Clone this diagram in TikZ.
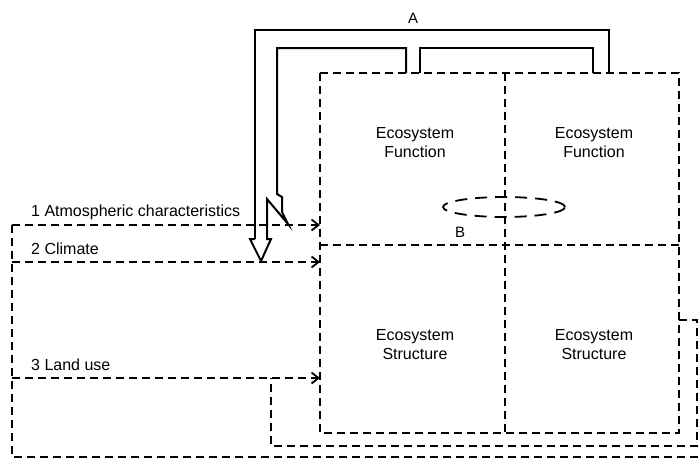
\documentclass[tikz,border=0pt]{standalone}
\usepackage{fontspec}
\setmainfont{Liberation Sans}
\usetikzlibrary{arrows.meta}
\begin{document}
\begin{tikzpicture}[x=1pt,y=-1pt,
  dl/.style={line width=2.2pt, dash pattern=on 8pt off 5pt},
  sl/.style={line width=2pt, line join=miter},
  lbl/.style={font=\fontsize{16}{18}\selectfont, inner sep=0pt, anchor=base west},
  cell/.style={font=\fontsize{16}{19}\selectfont, align=center, inner sep=0pt},
  tag/.style={font=\fontsize{15}{17}\selectfont, inner sep=0pt},
  tip/.style={-{Straight Barb[length=7pt,width=11pt,line width=1.8pt]}}
]
\useasboundingbox (0,0) rectangle (698,459);
% main grid
\coordinate (tl) at (320,73);
\coordinate (br) at (679,433);
\draw[dl] (tl) rectangle (br);
\coordinate (vt) at (505,73);
\coordinate (vb) at (505,433);
\coordinate (hl) at (320,245);
\coordinate (hr) at (679,245);
\draw[dl] (vt) -- (vb);
\draw[dl] (hl) -- (hr);
\node[cell] (fl) at (415,143) {Ecosystem\\Function};
\node[cell] (fr) at (594,143) {Ecosystem\\Function};
\node[cell] (sl) at (415,345) {Ecosystem\\Structure};
\node[cell] (sr) at (594,345) {Ecosystem\\Structure};
% interaction B
\draw[line width=1.8pt, dash pattern=on 12pt off 8pt] (504,207) ellipse [x radius=61pt, y radius=10pt];
\node[tag] (B) at (460,232) {B};
% drivers
\node[lbl] (d1) at (31,216) {1 Atmospheric characteristics};
\node[lbl] (d2) at (31,254) {2 Climate};
\node[lbl] (d3) at (31,370) {3 Land use};
\coordinate (s1) at (12,225);
\coordinate (e1) at (320,225);
\coordinate (s2) at (12,262);
\coordinate (e2) at (320,262);
\coordinate (s3) at (12,378);
\coordinate (e3) at (320,378);
\coordinate (sb) at (12,457);
\coordinate (eb) at (698,457);
\draw[dl] (s1) -- (sb) -- (eb);
\draw[dl,tip] (s1) -- (e1);
\draw[dl,tip] (s2) -- (e2);
\draw[dl,tip] (s3) -- (e3);
% land use feedback loop
\coordinate (lo) at (679,320);
\coordinate (lj) at (271,378);
\draw[dl] (lo) -- (697,320) -- (697,446) -- (271,446) -- (lj);
% feedback A (hollow arrow)
\node[tag] (A) at (413,18) {A};
\draw[sl] (255,239) -- (255,30) -- (609,30) -- (609,73);
\draw[sl] (406,73) -- (406,48) -- (277,48) -- (277,194) -- (282,197) -- (282,212)
  -- (288,224) -- (267,199) -- (267,239) -- (271,239) -- (261,261) -- (250,239) -- (255,239);
\draw[sl] (420,73) -- (420,48) -- (593,48) -- (593,73);
\end{tikzpicture}
\end{document}
